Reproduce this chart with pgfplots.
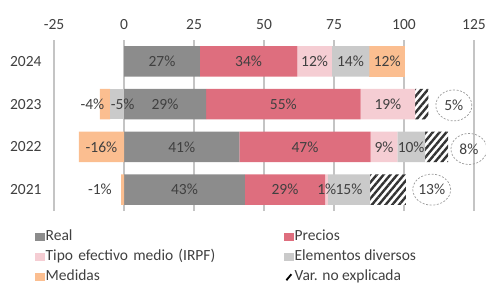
\documentclass[border=0pt]{standalone}
\usepackage{pgfplots}
\usepackage{pgfplotstable}
\pgfplotsset{compat=1.18}
\usetikzlibrary{patterns.meta,shapes.geometric}
\usepackage{fontspec}
\setmainfont{Carlito}
\definecolor{cReal}{HTML}{8C8C8C}
\definecolor{cPrec}{HTML}{DE6E7E}
\definecolor{cTipo}{HTML}{F5CDD3}
\definecolor{cElem}{HTML}{CACACA}
\definecolor{cMed}{HTML}{FBBE90}
\definecolor{cTxt}{HTML}{404040}
\definecolor{cGrid}{HTML}{C4C4C4}
\definecolor{cHatch}{HTML}{333333}
\definecolor{cEll}{HTML}{9A9A9A}

% segment values (per cent); negative values stack separately to the left of 0
\pgfplotstableread{
y ElemNeg MedNeg Real Precios Tipo Elem MedPos Var
0 0    -1.0  43.2 28.6 1.0  15.1 0    12.8
1 0    -16.1 41.2 46.9 9.5  9.9  0    8.3
2 -5.0 -3.6  29.3 55.2 19.5 0    0    4.7
3 0    0     27.1 34.8 12.3 13.4 12.8 0
}\bars

% labels inside / beside the bars
\pgfplotstableread{
x y lab
13.55 3 27\%
44.5  3 34\%
68.05 3 12\%
80.9  3 14\%
94.0  3 12\%
-11.3 2 -4\%
-0.5  2 -5\%
14.65 2 29\%
56.9  2 55\%
94.25 2 19\%
-8.05 1 -16\%
20.6  1 41\%
64.65 1 47\%
92.85 1 9\%
102.55 1 10\%
-8.6  0 -1\%
21.6  0 43\%
57.5  0 29\%
72.4  0 1\%
80.35 0 15\%
}\labs

% unexplained variation totals
\pgfplotstableread{
x y lab
117.8 1.97 5\%
123.2 0.95 8\%
109.9 0.0  13\%
}\unexpl

\newcommand{\fs}{\fontsize{15.5}{18}\selectfont}

\begin{document}
\begin{tikzpicture}
\begin{axis}[
  name=main,
  scale only axis,
  width=420pt, height=171pt,
  xmin=-25, xmax=125, ymin=-0.5, ymax=3.5,
  xbar stacked, bar width=30.5pt,
  xtick={-25,0,25,50,75,100,125},
  ytick={0,1,2,3},
  yticklabels={2021,2022,2023,2024},
  xticklabel pos=upper,
  axis line style={draw=none},
  major tick length=0pt,
  xmajorgrids,
  major grid style={cGrid, line width=1.1pt},
  ticklabel style={font=\fs, text=cTxt},
  xticklabel style={yshift=6.5pt},
  yticklabel style={xshift=-9pt},
  /pgf/number format/assume math mode=true,
  legend columns=2,
  legend cell align=left,
  legend style={at={(axis description cs:-0.045,-0.098)}, anchor=north west,
    draw=none, fill=none, font=\fs, text=cTxt, inner sep=0pt,
    nodes={inner sep=1.5pt, text height=11pt, text depth=3.5pt},
    row sep=2.5pt,
    /tikz/every even column/.append style={column sep=0pt}},
]
\addplot[forget plot, draw=none, fill=cElem] table[x=ElemNeg, y=y] {\bars};
\addplot[forget plot, draw=none, fill=cMed] table[x=MedNeg, y=y] {\bars};
\addplot[forget plot, draw=none, fill=cReal] table[x=Real, y=y] {\bars};
\addplot[forget plot, draw=none, fill=cPrec] table[x=Precios, y=y] {\bars};
\addplot[forget plot, draw=none, fill=cTipo] table[x=Tipo, y=y] {\bars};
\addplot[forget plot, draw=none, fill=cElem] table[x=Elem, y=y] {\bars};
\addplot[forget plot, draw=none, fill=cMed] table[x=MedPos, y=y] {\bars};
\addplot[forget plot, draw=none, fill=white,
  postaction={pattern={Lines[angle=50, distance=5.2pt, line width=2.4pt]}, pattern color=cHatch}]
  table[x=Var, y=y] {\bars};

\addlegendimage{legend image code/.code={\fill[cReal] (0pt,-3.5pt) rectangle (8.5pt,3.5pt);}}
\addlegendentry[text width=237pt, align=left]{Real}
\addlegendimage{legend image code/.code={\fill[cPrec] (0pt,-3.5pt) rectangle (8.5pt,3.5pt);}}
\addlegendentry{Precios}
\addlegendimage{legend image code/.code={\fill[cTipo] (0pt,-3.5pt) rectangle (8.5pt,3.5pt);}}
\addlegendentry[text width=237pt, align=left]{Tipo efectivo medio (IRPF)}
\addlegendimage{legend image code/.code={\fill[cElem] (0pt,-3.5pt) rectangle (8.5pt,3.5pt);}}
\addlegendentry{Elementos diversos}
\addlegendimage{legend image code/.code={\fill[cMed] (0pt,-3.5pt) rectangle (8.5pt,3.5pt);}}
\addlegendentry[text width=237pt, align=left]{Medidas}
\addlegendimage{legend image code/.code={\draw[black, line width=1.8pt] (2pt,-3.5pt) -- (7pt,2.5pt);}}
\addlegendentry{Var. no explicada}
\end{axis}

\begin{axis}[
  scale only axis,
  width=420pt, height=171pt,
  xmin=-25, xmax=125, ymin=-0.5, ymax=3.5,
  hide axis, clip=false,
]
\addplot[draw=none, mark=none, nodes near coords, point meta=explicit symbolic,
  every node near coord/.append style={anchor=center, font=\fs, text=cTxt, inner sep=0pt}]
  table[x=x, y=y, meta=lab] {\labs};
\addplot[draw=none, mark=none, nodes near coords, point meta=explicit symbolic,
  every node near coord/.append style={anchor=center, font=\fs, text=cTxt,
    ellipse, draw=cEll, dash pattern=on 2pt off 1.6pt, line width=0.7pt,
    inner sep=0pt, minimum height=31pt, minimum width=36pt}]
  table[x=x, y=y, meta=lab] {\unexpl};
\end{axis}

\pgfresetboundingbox
\path ([xshift=-54pt,yshift=-73pt]main.south west) rectangle ([xshift=12pt,yshift=40pt]main.north east);
\end{tikzpicture}
\end{document}
